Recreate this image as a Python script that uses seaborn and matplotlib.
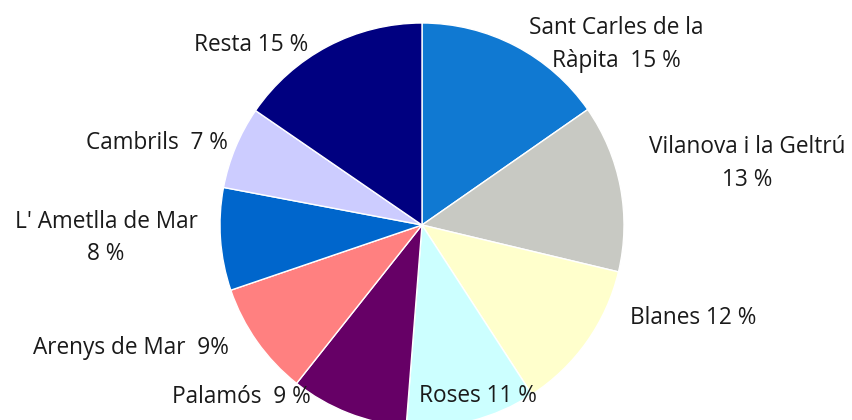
import matplotlib
matplotlib.use("Agg")
import matplotlib.pyplot as plt
import seaborn as sns

# Data
categories = ["Sant Carles de la Ràpita", "Vilanova i la Geltrú", "Blanes", "Roses",
              "Palamós", "Arenys de Mar", "L' Ametlla de Mar", "Cambrils", "Resta"]
shares = [15.3, 13.4, 12.1, 10.4, 9.4, 9.1, 8.2, 6.6, 15.4]
label_texts = ["Sant Carles de la\nRàpita  15 %", "Vilanova i la Geltrú\n13 %", "Blanes 12 %",
               "Roses 11 %", "Palamós  9 %", "Arenys de Mar  9%", "L' Ametlla de Mar\n8 %",
               "Cambrils  7 %", "Resta 15 %"]

# Styling
colors = ["#1079D2", "#C8C9C3", "#FFFFCC", "#CCFFFF", "#660066", "#FF8080",
          "#0066CC", "#CCCCFF", "#000080"]
# label centres in pixel coordinates (layout)
label_px = [(616, 44), (747, 163), (693, 318), (478, 396), (241, 397),
            (131, 348), (106, 238), (157, 143), (251, 45)]

sns.set_theme(style="white")
plt.rcParams['font.family'] = ['Open Sans', 'DejaVu Sans']

W, H, DPI = 852, 420, 100
fig = plt.figure(figsize=(W / DPI, H / DPI), dpi=DPI)
ax = fig.add_axes([0, 0, 1, 1])
cx, cy, R = 422, 225, 202

wedges, texts = ax.pie(shares, labels=label_texts, colors=colors, startangle=90,
                       counterclock=False, radius=1,
                       wedgeprops=dict(edgecolor="white", linewidth=1.0),
                       textprops=dict(fontsize=16.3, color="#1a1a1a"))
for t, (px, py) in zip(texts, label_px):
    t.set_position(((px - cx) / R, (cy - py) / R))
    t.set_ha("center")
    t.set_va("center")
    t.set_multialignment("center")
    t.set_linespacing(1.5)

ax.set_xlim(-cx / R, (W - cx) / R)
ax.set_ylim(-(H - cy) / R, cy / R)
ax.set_aspect("equal")
ax.axis("off")
fig.savefig("out.png", dpi=DPI, facecolor="white")
